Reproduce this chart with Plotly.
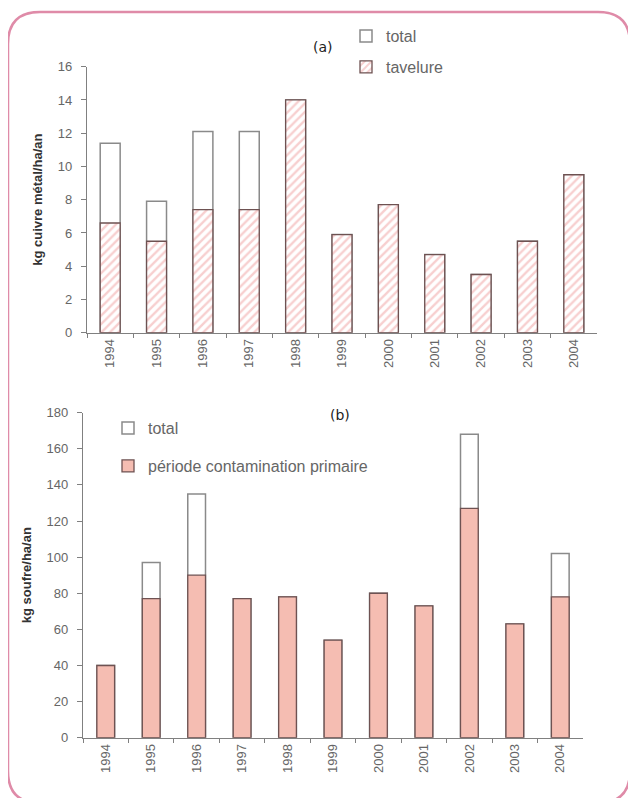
import plotly.graph_objects as go

# the page body adds an 8px margin, so the figure is a bit smaller than the window
PAD = 8
W, H = 636 - PAD, 798 - PAD

years = ["1994", "1995", "1996", "1997", "1998", "1999", "2000", "2001", "2002", "2003", "2004"]

# (a) copper, kg/ha/an
cuivre_total = [11.4, 7.9, 12.1, 12.1, 14.0, 5.9, 7.7, 4.7, 3.5, 5.5, 9.5]
cuivre_tavelure = [6.6, 5.5, 7.4, 7.4, 14.0, 5.9, 7.7, 4.7, 3.5, 5.5, 9.5]

# (b) sulphur, kg/ha/an
soufre_total = [40, 97, 135, 77, 78, 54, 80, 73, 168, 63, 102]
soufre_primaire = [40, 77, 90, 77, 78, 54, 80, 73, 127, 63, 78]


def px_x(v):
    # screen pixel -> paper fraction
    return (v - PAD) / W


def px_y(v):
    return 1 - (v - PAD) / H


tick_font = dict(family="Liberation Sans, Arial", size=13, color="#666666")
title_font = dict(family="Liberation Sans, Arial", size=13, color="#333333")
legend_font = dict(family="Liberation Sans, Arial", size=16, color="#666666")

fig = go.Figure()

# top chart: total behind, tavelure in front (hatched)
fig.add_trace(go.Bar(
    x=years, y=cuivre_total, name="total", width=0.43,
    marker=dict(color="white", line=dict(color="#8a8a8a", width=1.5)),
    xaxis="x", yaxis="y", legend="legend2",
))
fig.add_trace(go.Bar(
    x=years, y=cuivre_tavelure, name="tavelure", width=0.43,
    marker=dict(color="white", line=dict(color="#6e5252", width=1.3),
                pattern=dict(shape="/", fgcolor="#f0a0a0", bgcolor="white", size=6, solidity=0.4)),
    xaxis="x", yaxis="y", legend="legend3",
))

# bottom chart
fig.add_trace(go.Bar(
    x=years, y=soufre_total, name="total", width=0.39,
    marker=dict(color="white", line=dict(color="#8a8a8a", width=1.5)),
    xaxis="x2", yaxis="y2", legend="legend4",
))
fig.add_trace(go.Bar(
    x=years, y=soufre_primaire, name="période contamination primaire", width=0.39,
    marker=dict(color="#f5bdb2", line=dict(color="#6e5252", width=1.3)),
    xaxis="x2", yaxis="y2", legend="legend5",
))

xcommon = dict(type="category", showline=True, linecolor="#808080", linewidth=1.2,
               ticks="outside", tickson="boundaries", ticklen=4, tickcolor="#808080",
               tickangle=-90, tickfont=tick_font, showgrid=False, zeroline=False)
ycommon = dict(showline=True, linecolor="#808080", linewidth=1.2, ticks="outside", ticklen=5,
               tickcolor="#808080", tickfont=tick_font, showgrid=False, zeroline=False,
               ticklabelstandoff=6)

legend_base = dict(font=legend_font, bgcolor="rgba(0,0,0,0)", xanchor="left", yanchor="middle",
                   itemwidth=30, tracegroupgap=0)

fig.update_layout(
    width=W, height=H,
    margin=dict(l=0, r=0, t=0, b=0, autoexpand=False),
    paper_bgcolor="white", plot_bgcolor="white",
    barmode="overlay", bargap=0.5,
    xaxis=dict(xcommon, domain=[px_x(87), px_x(597)], anchor="y"),
    yaxis=dict(ycommon, domain=[px_y(332.7), px_y(66.7)], range=[0, 16], dtick=2, anchor="x",
               title=dict(text="<b>kg cuivre métal/ha/an</b>", font=title_font, standoff=12)),
    xaxis2=dict(xcommon, domain=[px_x(83), px_x(583)], anchor="y2"),
    yaxis2=dict(ycommon, domain=[px_y(737.7), px_y(412.7)], range=[0, 180], dtick=20, anchor="x2",
                title=dict(text="<b>kg soufre/ha/an</b>", font=title_font, standoff=12)),
    legend2=dict(legend_base, x=px_x(346), y=px_y(36)),
    legend3=dict(legend_base, x=px_x(346), y=px_y(67)),
    legend4=dict(legend_base, x=px_x(108), y=px_y(428)),
    legend5=dict(legend_base, x=px_x(108), y=px_y(466)),
    annotations=[
        dict(text="(a)", x=px_x(323), y=px_y(47), xref="paper", yref="paper", showarrow=False,
             xanchor="center", yanchor="middle",
             font=dict(family="DejaVu Sans", size=14, color="#222222")),
        dict(text="(b)", x=px_x(340), y=px_y(415), xref="paper", yref="paper", showarrow=False,
             xanchor="center", yanchor="middle",
             font=dict(family="DejaVu Sans", size=14, color="#222222")),
    ],
)

# rounded pink frame around both charts
x0, x1, y0, y1, r = 8, 630, 12, 803, 32
path = (
    f"M {px_x(x0 + r)},{px_y(y0)} L {px_x(x1 - r)},{px_y(y0)} "
    f"Q {px_x(x1)},{px_y(y0)} {px_x(x1)},{px_y(y0 + r)} "
    f"L {px_x(x1)},{px_y(y1 - r)} Q {px_x(x1)},{px_y(y1)} {px_x(x1 - r)},{px_y(y1)} "
    f"L {px_x(x0 + r)},{px_y(y1)} Q {px_x(x0)},{px_y(y1)} {px_x(x0)},{px_y(y1 - r)} "
    f"L {px_x(x0)},{px_y(y0 + r)} Q {px_x(x0)},{px_y(y0)} {px_x(x0 + r)},{px_y(y0)} Z"
)
fig.add_shape(type="path", path=path, xref="paper", yref="paper",
              line=dict(color="#df8ba8", width=2.5), layer="above")

fig.write_html("out.html")
